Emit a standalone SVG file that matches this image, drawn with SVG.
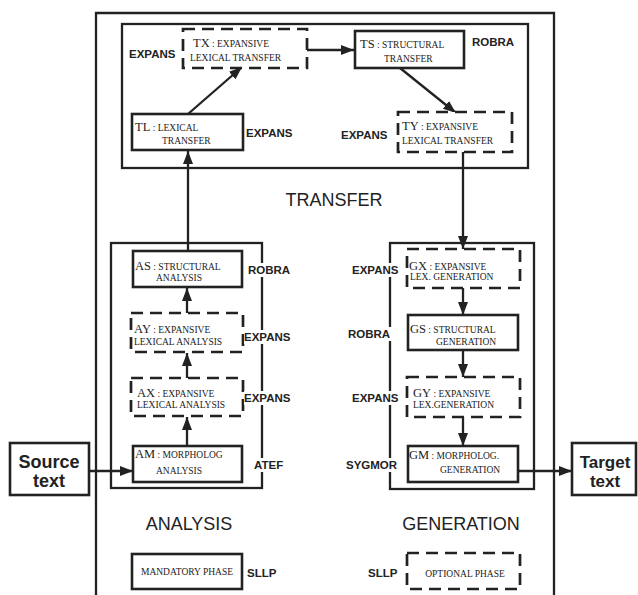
<svg xmlns="http://www.w3.org/2000/svg" width="638" height="595" viewBox="0 0 638 595">
<style>
.frame{fill:none;stroke:#222;stroke-width:2.3}
.box{fill:#fff;stroke:#222;stroke-width:2.6}
.dbox{fill:#fff;stroke:#222;stroke-width:2.7;stroke-dasharray:12 7}
.conn{fill:none;stroke:#222;stroke-width:2.3;marker-end:url(#ah)}
.lbl{font-family:"Liberation Sans",Arial,sans-serif;font-weight:bold;font-size:11.5px;fill:#222}
.bg{fill:#fff}
.nt{font-family:"Liberation Serif","Times New Roman",serif;font-size:9.5px;fill:#222}
.code{font-size:12.5px}
.title{font-family:"Liberation Sans",Arial,sans-serif;font-size:18px;fill:#222}
.io{font-family:"Liberation Sans",Arial,sans-serif;font-weight:bold;font-size:18px;fill:#222;text-anchor:middle}
</style>
<defs>
<marker id="ah" markerUnits="userSpaceOnUse" markerWidth="13" markerHeight="10" refX="13" refY="5" orient="auto">
<path d="M0,0 L13,5 L0,10 z" fill="#222"/>
</marker>
</defs>
<rect width="638" height="595" fill="#fff"/>

<g id="frames">
<path class="frame" d="M96,600 V13 H554 V600"/>
<rect class="frame" x="122" y="24" width="406" height="144"/>
<rect class="frame" x="111" y="243" width="151" height="245"/>
<rect class="frame" x="390" y="243" width="144" height="246"/>
<text class="title" x="334" y="206" text-anchor="middle">TRANSFER</text>
<text class="title" x="189" y="530" text-anchor="middle">ANALYSIS</text>
<text class="title" x="461" y="530" text-anchor="middle">GENERATION</text>
</g>

<g id="connectors">
<line class="conn" x1="188" y1="114" x2="242" y2="67"/>
<line class="conn" x1="307" y1="50" x2="354" y2="50"/>
<line class="conn" x1="400" y1="68" x2="456" y2="113"/>
<line class="conn" x1="188" y1="251" x2="188" y2="151"/>
<line class="conn" x1="187" y1="446" x2="187" y2="417"/>
<line class="conn" x1="187" y1="378" x2="187" y2="353"/>
<line class="conn" x1="187" y1="313" x2="187" y2="288"/>
<line class="conn" x1="463" y1="152" x2="463" y2="249"/>
<line class="conn" x1="463" y1="288" x2="463" y2="315"/>
<line class="conn" x1="463" y1="350" x2="463" y2="377"/>
<line class="conn" x1="463" y1="417" x2="463" y2="446"/>
<line class="conn" x1="89" y1="471" x2="133" y2="471"/>
<line class="conn" x1="518" y1="471" x2="572" y2="471"/>
</g>

<g id="source">
<rect class="box" x="10" y="443" width="79" height="52"/>
<text class="io" x="49" y="468">Source</text>
<text class="io" x="49" y="487">text</text>
</g>
<g id="target">
<rect class="box" x="572" y="443" width="64" height="52"/>
<text class="io" x="605" y="468" style="font-size:17px">Target</text>
<text class="io" x="605" y="487" style="font-size:17px">text</text>
</g>

<g id="TX">
<rect class="dbox" x="183" y="29" width="124" height="39"/>
<text class="nt" x="193" y="47"><tspan class="code">TX</tspan> : EXPANSIVE</text>
<text class="nt" x="190" y="61">LEXICAL TRANSFER</text>
<text class="lbl" x="129" y="58">EXPANS</text>
</g>
<g id="TS">
<rect class="box" x="355" y="31" width="109" height="37"/>
<text class="nt" x="360" y="48"><tspan class="code">TS</tspan> : STRUCTURAL</text>
<text class="nt" x="384" y="62">TRANSFER</text>
<text class="lbl" x="472" y="46">ROBRA</text>
</g>
<g id="TL">
<rect class="box" x="132" y="114" width="111" height="36"/>
<text class="nt" x="135" y="131"><tspan class="code">TL</tspan> : LEXICAL</text>
<text class="nt" x="162" y="144">TRANSFER</text>
<text class="lbl" x="246" y="137">EXPANS</text>
</g>
<g id="TY">
<rect class="dbox" x="398" y="112" width="114" height="40"/>
<text class="nt" x="402" y="130"><tspan class="code">TY</tspan> : EXPANSIVE</text>
<text class="nt" x="402" y="144">LEXICAL TRANSFER</text>
<text class="lbl" x="341" y="139">EXPANS</text>
</g>

<g id="AS">
<rect class="box" x="133" y="251" width="109" height="36"/>
<text class="nt" x="135" y="270"><tspan class="code">AS</tspan> : STRUCTURAL</text>
<text class="nt" x="156" y="281">ANALYSIS</text>
<rect class="bg" x="246" y="263" width="46" height="14"/>
<text class="lbl" x="248" y="274">ROBRA</text>
</g>
<g id="AY">
<rect class="dbox" x="131" y="313" width="112" height="39"/>
<text class="nt" x="134" y="333"><tspan class="code">AY</tspan> : EXPANSIVE</text>
<text class="nt" x="134" y="345">LEXICAL ANALYSIS</text>
<rect class="bg" x="244" y="330" width="48" height="14"/>
<text class="lbl" x="244" y="341">EXPANS</text>
</g>
<g id="AX">
<rect class="dbox" x="131" y="378" width="112" height="38"/>
<text class="nt" x="137" y="397"><tspan class="code">AX</tspan> : EXPANSIVE</text>
<text class="nt" x="137" y="408">LEXICAL ANALYSIS</text>
<rect class="bg" x="244" y="391" width="48" height="14"/>
<text class="lbl" x="244" y="402">EXPANS</text>
</g>
<g id="AM">
<rect class="box" x="133" y="446" width="109" height="36"/>
<text class="nt" x="135" y="458"><tspan class="code">AM</tspan> : MORPHOLOG</text>
<text class="nt" x="156" y="474">ANALYSIS</text>
<rect class="bg" x="251" y="458" width="36" height="14"/>
<text class="lbl" x="254" y="469">ATEF</text>
</g>

<g id="GX">
<rect class="dbox" x="407" y="249" width="113" height="39"/>
<text class="nt" x="409" y="270"><tspan class="code">GX</tspan> : EXPANSIVE</text>
<text class="nt" x="410" y="280">LEX. GENERATION</text>
<rect class="bg" x="350" y="263" width="52" height="14"/>
<text class="lbl" x="352" y="274">EXPANS</text>
</g>
<g id="GS">
<rect class="box" x="408" y="315" width="110" height="35"/>
<text class="nt" x="410" y="333"><tspan class="code">GS</tspan> : STRUCTURAL</text>
<text class="nt" x="436" y="345">GENERATION</text>
<rect class="bg" x="346" y="327" width="50" height="14"/>
<text class="lbl" x="348" y="338">ROBRA</text>
</g>
<g id="GY">
<rect class="dbox" x="407" y="377" width="113" height="40"/>
<text class="nt" x="413" y="397"><tspan class="code">GY</tspan> : EXPANSIVE</text>
<text class="nt" x="413" y="408">LEX.GENERATION</text>
<rect class="bg" x="350" y="391" width="52" height="14"/>
<text class="lbl" x="352" y="402">EXPANS</text>
</g>
<g id="GM">
<rect class="box" x="408" y="446" width="110" height="36"/>
<text class="nt" x="409" y="459"><tspan class="code">GM</tspan> : MORPHOLOG.</text>
<text class="nt" x="440" y="473">GENERATION</text>
<rect class="bg" x="344" y="458" width="60" height="14"/>
<text class="lbl" x="346" y="469">SYGMOR</text>
</g>

<g id="mandatory">
<rect class="box" x="132" y="554" width="110" height="35"/>
<text class="nt" x="187" y="575" text-anchor="middle">MANDATORY PHASE</text>
<text class="lbl" x="247" y="577">SLLP</text>
</g>
<g id="optional">
<rect class="dbox" x="407" y="553" width="113" height="36"/>
<text class="nt" x="465" y="577" text-anchor="middle">OPTIONAL PHASE</text>
<text class="lbl" x="368" y="577">SLLP</text>
</g>
</svg>
